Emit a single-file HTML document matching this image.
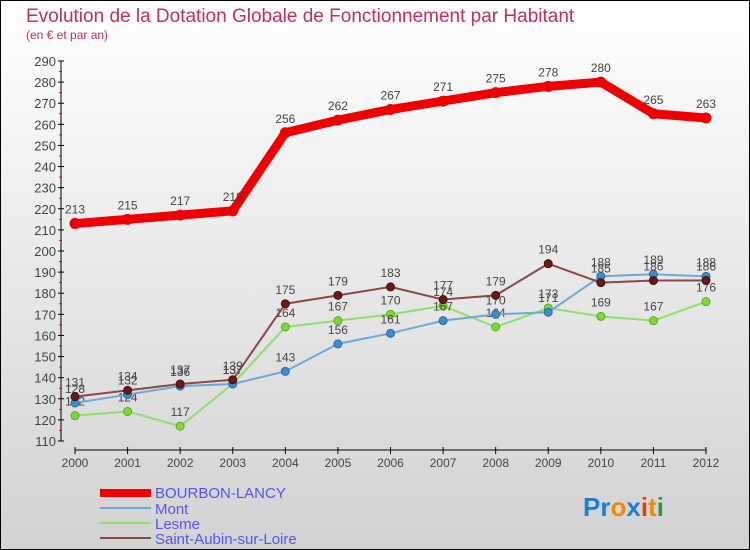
<!DOCTYPE html>
<html><head><meta charset="utf-8"><style>
body{margin:0}
#c{width:750px;height:550px;position:relative;overflow:hidden}
svg{position:absolute;left:0;top:0}
</style></head><body>
<div id="c">
<svg id="s" width="750" height="550" font-family="'Liberation Sans', sans-serif">
<defs><linearGradient id="bg" x1="0" y1="0" x2="0" y2="1"><stop offset="0" stop-color="#ffffff"/><stop offset="1" stop-color="#d2d2d2"/></linearGradient></defs>
<rect x="0.5" y="0.5" width="749" height="549" fill="url(#bg)" stroke="#000"/>
<text x="26" y="22" font-size="19" fill="#c0305a">Evolution de la Dotation Globale de Fonctionnement par Habitant</text>
<text x="26" y="39" font-size="12" fill="#c0305a">(en € et par an)</text>
<g id="axes"></g>
<g id="series"></g>
<g>
<rect x="100" y="489" width="51" height="8" fill="#e00"/>
<text x="155" y="498" font-size="15" fill="#5555ee">BOURBON-LANCY</text>
<rect x="100" y="507" width="51" height="2" fill="#6fa8d8"/>
<text x="155" y="514" font-size="15" fill="#5555ee">Mont</text>
<rect x="100" y="522" width="51" height="2" fill="#8ee06a"/>
<text x="155" y="529" font-size="15" fill="#5555ee">Lesme</text>
<rect x="100" y="537" width="51" height="2" fill="#8a4848"/>
<text x="155" y="544" font-size="15" fill="#5555ee">Saint-Aubin-sur-Loire</text>
</g>
<g font-size="26" font-weight="bold">
<text x="583" y="516"><tspan fill="#1a7fd6">Pr</tspan><tspan fill="#f08a00">o</tspan><tspan fill="#1a7fd6">x</tspan><tspan fill="#e04000">i</tspan><tspan fill="#f08a00">t</tspan><tspan fill="#2a9a3a">i</tspan></text>
</g>
</svg></div>
<script>
const years=["2000","2001","2002","2003","2004","2005","2006","2007","2008","2009","2010","2011","2012"];
const bourbon=[213,215,217,219,256,262,267,271,275,278,280,265,263];
const mont=[128,132,136,137,143,156,161,167,170,171,188,189,188];
const lesme=[122,124,117,137,164,167,170,174,164,173,169,167,176];
const saintAubin=[131,134,137,139,175,179,183,177,179,194,185,186,186];
const yTicks=[110,120,130,140,150,160,170,180,190,200,210,220,230,240,250,260,270,280,290];
const NS="http://www.w3.org/2000/svg";
const x=i=>75+i*(706-75)/(years.length-1);
const y=v=>441-(v-110)*(441-61)/180;
function mk(t,a,p){const e=document.createElementNS(NS,t);for(const k in a)e.setAttribute(k,a[k]);p.appendChild(e);return e;}
const ax=document.getElementById('axes');
let l=mk('line',{x1:61,y1:61,x2:61,y2:441,stroke:'#000'},ax);


const yMax=yTicks[yTicks.length-1];
yTicks.forEach(v=>{
 mk('line',{x1:58,y1:y(v),x2:64,y2:y(v),stroke:'#000'},ax);
 if(v<yMax) mk('line',{x1:59,y1:y(v+5),x2:62,y2:y(v+5),stroke:'#e00'},ax);
 const t=mk('text',{x:56,y:y(v)+5,'text-anchor':'end','font-size':13,fill:'#444'},ax);t.textContent=v;
 
 
});
l=mk('line',{x1:75,y1:450,x2:706,y2:450,stroke:'#000'},ax);


years.forEach((yr,i)=>{
 mk('line',{x1:x(i),y1:447,x2:x(i),y2:454,stroke:'#000'},ax);
 const t=mk('text',{x:x(i),y:467,'text-anchor':'middle','font-size':12,fill:'#444'},ax);t.textContent=yr;
 
 
});
const sg=document.getElementById('series');
function draw(data,color,w,r,name,dot,dotStroke){
 const g=mk('g',{},sg);
 
 
 const p=mk('polyline',{points:data.map((v,i)=>x(i)+','+y(v)).join(' '),fill:'none',stroke:color,'stroke-width':w,'stroke-linejoin':'round'},g);
 
 
 data.forEach((v,i)=>{
  const c=mk('circle',{cx:x(i),cy:y(v),r:r,fill:dot,stroke:dotStroke,'stroke-width':1},g);
  
  
  const t=mk('text',{x:x(i),y:y(v)-10,'text-anchor':'middle','font-size':12,fill:'#444'},g);t.textContent=v;
  
  
 });
}
draw(lesme,'#8ee06a',2,4,'lesme','#7fd83a','#5aa820');
draw(mont,'#6fa8d8',2,4,'mont','#3a8fd0','#2a6aa0');
draw(saintAubin,'#8a4848',2,4,'saint-aubin','#6a1a1a','#4a0a0a');
draw(bourbon,'#ee0000',9,5,'bourbon-lancy','#ee0000','#ee0000');
</script>
</body></html>
